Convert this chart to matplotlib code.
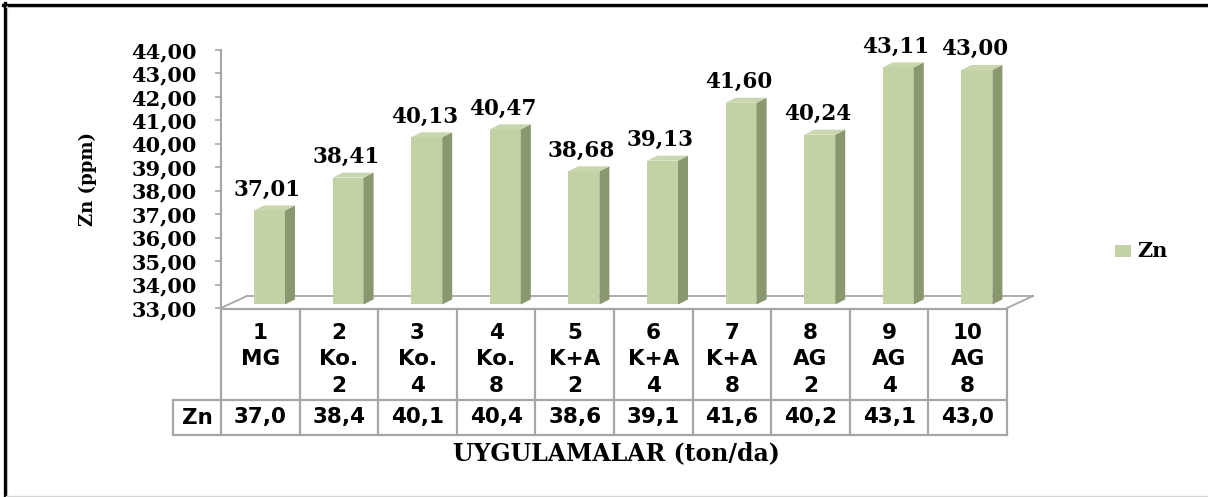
import matplotlib
matplotlib.use("Agg")
import matplotlib.pyplot as plt
from matplotlib.patches import Rectangle, Polygon
from matplotlib.lines import Line2D

# ---- data ----
categories = ["1\nMG", "2\nKo.\n2", "3\nKo.\n4", "4\nKo.\n8", "5\nK+A\n2",
              "6\nK+A\n4", "7\nK+A\n8", "8\nAG\n2", "9\nAG\n4", "10\nAG\n8"]
zn_values = [37.01, 38.41, 40.13, 40.47, 38.68, 39.13, 41.60, 40.24, 43.11, 43.00]
table_values = ["37,0", "38,4", "40,1", "40,4", "38,6", "39,1", "41,6", "40,2", "43,1", "43,0"]
series_name = "Zn"
y_ticks = [33, 34, 35, 36, 37, 38, 39, 40, 41, 42, 43, 44]

# ---- styling ----
W, H = 1208, 497
FRONT = "#C3D2A5"
SIDE = "#8A9870"
TOP = "#CAD7AE"
GRID = "#A6A6A6"
SERIF = "DejaVu Serif"
SANS = "DejaVu Sans"

fig = plt.figure(figsize=(W / 100, H / 100), dpi=100)
fig.patch.set_facecolor("white")


def fx(px):
    return px / W


def fy(py):
    return 1 - py / H


# plot area: columns span x = 0..10, value axis 33..44
ax_left, ax_right, ax_top, ax_bot = 221, 1007, 50, 308
ax = fig.add_axes([fx(ax_left), fy(ax_bot), fx(ax_right - ax_left), (ax_bot - ax_top) / H])
ax.set_xlim(0, len(categories))
ax.set_ylim(y_ticks[0], y_ticks[-1])
ax.patch.set_alpha(0)
for s in ("top", "right", "bottom"):
    ax.spines[s].set_visible(False)
ax.spines["left"].set_color(GRID)
ax.spines["left"].set_linewidth(1.5)
ax.set_xticks([])
ax.set_yticks(y_ticks)
ax.set_yticklabels([f"{t:.2f}".replace(".", ",") for t in y_ticks],
                   fontfamily=SERIF, fontweight="bold", fontsize=15)
ax.tick_params(axis="y", direction="out", length=4.5, width=1.2, color=GRID, pad=13)

px_x = (ax_right - ax_left) / len(categories)          # pixels per column
px_y = (ax_bot - ax_top) / (y_ticks[-1] - y_ticks[0])  # pixels per unit

# floor of the 3-D plot
fdx, fdy = 26 / px_x, 12 / px_y
base = y_ticks[0]
floor_kw = dict(color=GRID, lw=1.3, clip_on=False)
ax.plot([0, fdx], [base, base + fdy], **floor_kw)
ax.plot([fdx, len(categories) + fdx], [base + fdy, base + fdy], **floor_kw)
ax.plot([len(categories), len(categories) + fdx], [base, base + fdy], **floor_kw)

# 3-D columns
off_x, bar_w = 33 / px_x, 31 / px_x
ddx, ddy = 10 / px_x, 5 / px_y
lift = 3.5 / px_y
for i, v in enumerate(zn_values):
    x0 = i + off_x
    x1 = x0 + bar_w
    b, t = base + lift, v + lift
    ax.add_patch(Rectangle((x0, b), bar_w, t - b, facecolor=FRONT, edgecolor="none",
                           clip_on=False, zorder=3))
    ax.add_patch(Polygon([(x1, b), (x1 + ddx, b + ddy), (x1 + ddx, t + ddy), (x1, t)],
                         closed=True, facecolor=SIDE, edgecolor="none", clip_on=False, zorder=3))
    ax.add_patch(Polygon([(x0, t), (x1, t), (x1 + ddx, t + ddy), (x0 + ddx, t + ddy)],
                         closed=True, facecolor=TOP, edgecolor="none", clip_on=False, zorder=3))
    ax.annotate(f"{v:.2f}".replace(".", ","), xy=(x0 + bar_w / 2 - 0.03, t + ddy),
                xytext=(0, 7), textcoords="offset points", ha="center", va="baseline",
                fontfamily=SERIF, fontweight="bold", fontsize=15.5, zorder=4)

# data table below the plot (x in column units, y in pixels from top)
tab = fig.add_axes([fx(ax_left), 0, fx(ax_right - ax_left), 1])
tab.set_xlim(0, len(categories))
tab.set_ylim(H, 0)
tab.axis("off")
row_top, row_mid, row_bot = 309, 400, 435
label_left = (173 - ax_left) / px_x
tl = dict(color=GRID, lw=1.6, clip_on=False, solid_capstyle="projecting")
n = len(categories)
tab.plot([0, n], [row_top, row_top], **tl)
tab.plot([label_left, n], [row_mid, row_mid], **tl)
tab.plot([label_left, n], [row_bot, row_bot], **tl)
for k in range(n + 1):
    tab.plot([k, k], [row_top, row_bot], **tl)
tab.plot([label_left, label_left], [row_mid, row_bot], **tl)

line_rows = [333, 359, 386]
for i, cat in enumerate(categories):
    for j, part in enumerate(cat.split("\n")):
        tab.text(i + 0.5, line_rows[j], part, ha="center", va="center",
                 fontfamily=SANS, fontweight="bold", fontsize=15.5)
    tab.text(i + 0.5, 417.5, table_values[i], ha="center", va="center",
             fontfamily=SANS, fontweight="bold", fontsize=15.5)
tab.text(label_left / 2, 417.5, series_name, ha="center", va="center",
         fontfamily=SANS, fontweight="bold", fontsize=15.5)

# axis titles
fig.text(fx(616), fy(453), "UYGULAMALAR (ton/da)", ha="center", va="center",
         fontfamily=SERIF, fontweight="bold", fontsize=17)
fig.text(fx(88), fy(179), "Zn (ppm)", ha="center", va="center", rotation=90,
         fontfamily=SERIF, fontweight="bold", fontsize=13)

# legend
fig.add_artist(Rectangle((fx(1115), fy(257)), fx(16), 12 / H, transform=fig.transFigure,
                         facecolor=FRONT, edgecolor="none"))
fig.text(fx(1137), fy(251), series_name, ha="left", va="center",
         fontfamily=SERIF, fontweight="bold", fontsize=15)

# outer frame
fig.add_artist(Line2D([fx(5), fx(5)], [0, fy(3)], color="black", lw=2.4))
fig.add_artist(Line2D([fx(3), 1], [fy(4.5), fy(4.5)], color="black", lw=2.4))
fig.add_artist(Line2D([fx(7.2), fx(7.2)], [0, fy(6)], color="#BBBBBB", lw=0.8))
fig.add_artist(Line2D([fx(6), 1], [fy(6.8), fy(6.8)], color="#BBBBBB", lw=0.8))
fig.add_artist(Line2D([fx(6), 1], [fy(496), fy(496)], color="#D5D5D5", lw=1.0))

fig.savefig("out.png", dpi=100, facecolor="white")
